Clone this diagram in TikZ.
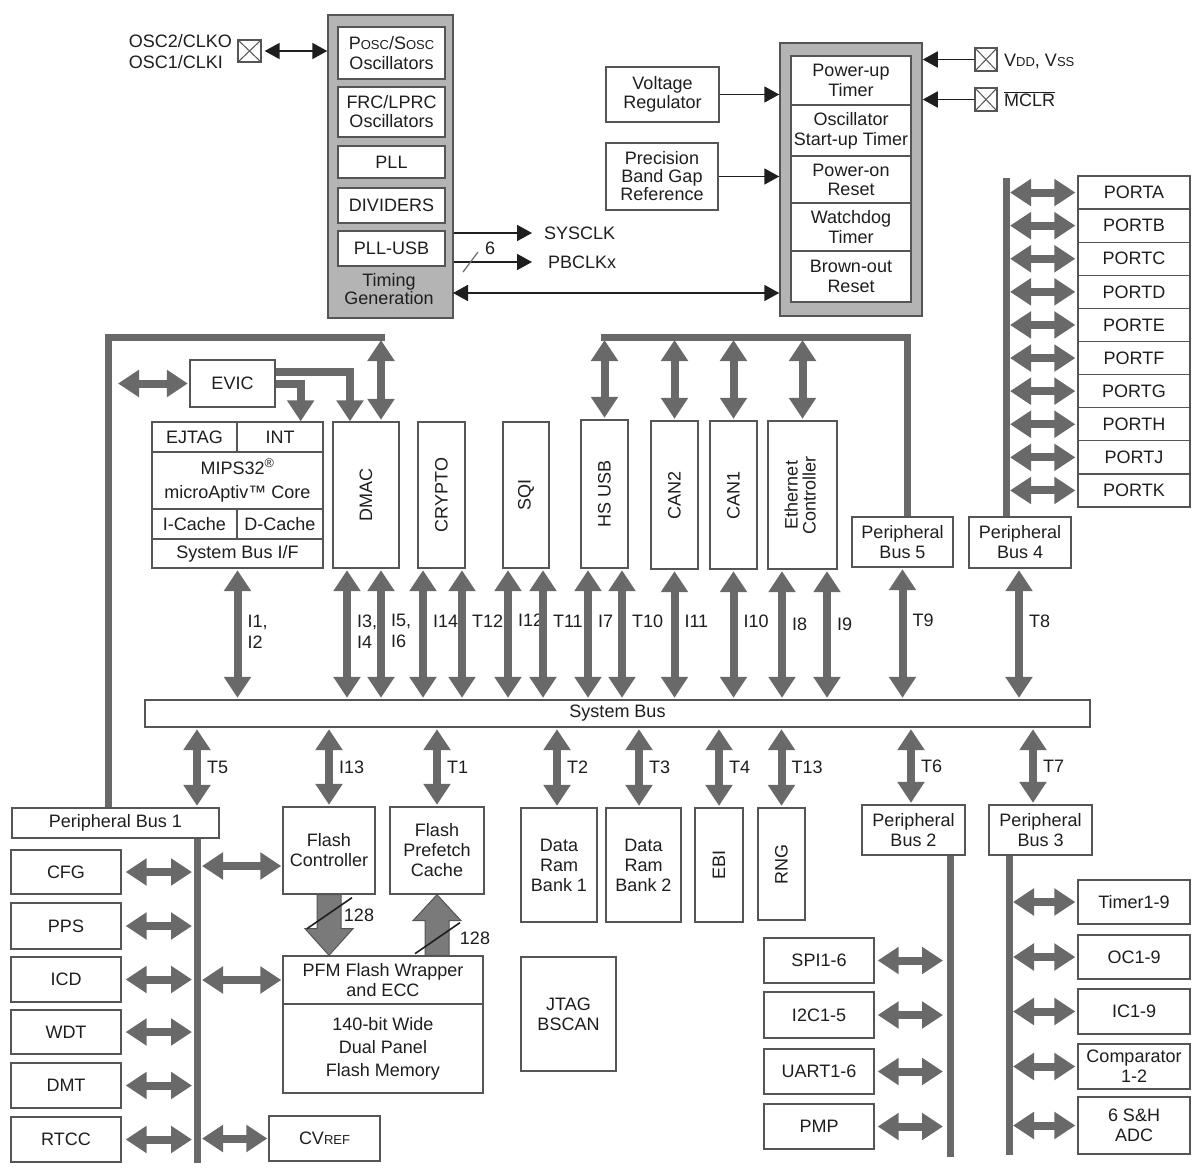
\documentclass[tikz,border=0pt]{standalone}
\usepackage{fontspec}
\setmainfont{Liberation Sans}
\usepackage{graphicx}
\usetikzlibrary{calc}
\usetikzlibrary{arrows.meta}

\definecolor{ink}{RGB}{30,30,30}
\definecolor{bord}{RGB}{85,85,85}
\definecolor{garr}{RGB}{105,105,105}
\definecolor{panel}{RGB}{180,180,180}
\definecolor{blkfill}{RGB}{122,122,122}

\newcommand{\lowcap}[1]{{\fontsize{13}{13}\selectfont #1}}

\begin{document}
\begin{tikzpicture}[x=1pt,y=-1pt,
  font=\fontsize{18}{20}\selectfont,
  wh/.style 2 args={minimum width=#1, minimum height=#2},
  box/.style={draw=bord, line width=1.3pt, fill=white, inner sep=0pt, align=center, text=ink},
  gbox/.style={draw=bord, line width=1.5pt, fill=panel, inner sep=0pt},
  padbox/.style={draw=bord, line width=1.3pt, inner sep=0pt,
    path picture={\draw[bord,line width=1pt] (path picture bounding box.north west) -- (path picture bounding box.south east)
      (path picture bounding box.north east) -- (path picture bounding box.south west);}},
  gbus/.style={draw=garr, line width=7pt},
  garrow/.style={draw=garr, line width=8pt, shorten <=1.5pt, shorten >=1.5pt,
    {Triangle[length=21pt,width=26pt]}-{Triangle[length=21pt,width=26pt]}},
  gto/.style={draw=garr, line width=8pt, -{Triangle[length=21pt,width=26pt]}},
  barrow/.style={draw=ink, line width=1.8pt, -{Triangle[length=15pt,width=16pt]}},
  bboth/.style={draw=ink, line width=1.8pt, {Triangle[length=15pt,width=16pt]}-{Triangle[length=15pt,width=16pt]}},
  lbl/.style={anchor=west, inner sep=1pt, xshift=5pt, text=ink, align=left, font=\fontsize{18}{21}\selectfont},
  blk/.style={fill=blkfill, draw=bord, line width=1pt}]
\fill[white] (0,0) rectangle (1196,1167);
\useasboundingbox (0,0) rectangle (1196,1167);

% clock block
\node[gbox, wh={125}{303}] (tg) at (390.5,166.5) {};
\node[box, wh={107}{52}] (posc) at (391.5,53) {P\lowcap{OSC}/S\lowcap{OSC}\\Oscillators};
\node[box, wh={107}{50}, font=\fontsize{18}{19}\selectfont] (frc) at (391.5,112) {FRC/LPRC\\Oscillators};
\node[box, wh={107}{32}] (pll) at (391.5,162) {PLL};
\node[box, wh={107}{35}] (div) at (391.5,205.5) {DIVIDERS};
\node[box, wh={107}{35}] (pllusb) at (391.5,248.5) {PLL-USB};
\node[text=ink, align=center, font=\fontsize{18}{18}\selectfont] (tgtext) at (389,289) {Timing\\Generation};

\node[padbox, wh={23}{22}] (oscpin) at (249.5,51) {};
\node[anchor=east, align=left, text=ink, inner sep=2pt, font=\fontsize{18}{21}\selectfont] (osclbl) at (234,52) {OSC2/CLKO\\OSC1/CLKI};
\draw[bboth, shorten <=3pt] (oscpin.east) -- (oscpin.east -| tg.west);

\node[anchor=west, text=ink, inner sep=2pt] (sysclk) at (542,233) {SYSCLK};
\node[anchor=west, text=ink, inner sep=2pt] (pbclk) at (546,262) {PBCLKx};
\draw[barrow, shorten >=10pt] (tg.east |- sysclk.west) -- (sysclk.west);
\draw[barrow, shorten >=14pt] (tg.east |- pbclk.west) -- (pbclk.west);
\draw[garr, line width=1.2pt] (463,272) -- (478,252);
\node[text=ink, inner sep=1pt] (six) at (490,248) {6};

% reset block
\node[gbox, wh={142}{273}] (rst) at (851,179.5) {};
\node[box, wh={120}{49}] (pwrt) at (851,80.5) {Power-up\\Timer};
\node[box, wh={120}{51}] (ost) at (851,130.5) {Oscillator\\Start-up Timer};
\node[box, wh={120}{47}, font=\fontsize{18}{19}\selectfont] (por) at (851,179.5) {Power-on\\Reset};
\node[box, wh={120}{48}] (wdtr) at (851,227) {Watchdog\\Timer};
\node[box, wh={120}{51}] (bor) at (851,276.5) {Brown-out\\Reset};

\node[box, wh={113}{55}, font=\fontsize{18}{19}\selectfont] (vreg) at (662.5,94.5) {Voltage\\Regulator};
\node[box, wh={112}{67}, font=\fontsize{18}{18}\selectfont] (bgap) at (662,176.5) {Precision\\Band Gap\\Reference};
\draw[barrow] (vreg.east) -- (vreg.east -| rst.west);
\draw[barrow] (bgap.east) -- (bgap.east -| rst.west);
\coordinate (tglink) at (453,293);
\draw[bboth] (tglink) -- (tglink -| rst.west);

\node[padbox, wh={22}{23}] (vddpin) at (986,59.5) {};
\node[anchor=west, text=ink, inner sep=2pt] (vddlbl) at (1002,61) {V\lowcap{DD}, V\lowcap{SS}};
\node[padbox, wh={22}{23}] (mclrpin) at (986,99.5) {};
\node[anchor=west, text=ink, inner sep=2pt] (mclrlbl) at (1002,99) {$\overline{\mbox{MCLR}}$};
\draw[barrow] (vddpin.west) -- (vddpin.west -| rst.east);
\draw[barrow] (mclrpin.west) -- (mclrpin.west -| rst.east);

% cpu and bus masters
\node[box, wh={85}{47}] (evic) at (232.5,383.5) {EVIC};
\node[box, wh={171}{146}] (cpu) at (237.5,495) {};
\node[box, wh={85}{30}] (ejtag) at (194.5,437) {EJTAG};
\node[box, wh={86}{30}] (mipsint) at (280,437) {INT};
\node[box, wh={171}{57}, font=\fontsize{18}{24}\selectfont] (core) at (237.5,480.5) {MIPS32\textsuperscript{\textregistered}\\microAptiv\texttrademark{} Core};
\node[box, wh={85}{30}] (icache) at (194.5,524) {I-Cache};
\node[box, wh={86}{30}] (dcache) at (280,524) {D-Cache};
\node[box, wh={171}{29}] (sbif) at (237.5,553.5) {System Bus I/F};

\node[box, wh={66}{146}] (dmac) at (366,495) {\rotatebox{90}{DMAC}};
\node[box, wh={47}{146}] (crypto) at (441.5,495) {\rotatebox{90}{CRYPTO}};
\node[box, wh={46}{146}] (sqi) at (526,495) {\rotatebox{90}{SQI}};
\node[box, wh={47}{148}] (hsusb) at (604.5,494) {\rotatebox{90}{HS USB}};
\node[box, wh={47}{148}] (can2) at (674.5,495) {\rotatebox{90}{CAN2}};
\node[box, wh={47}{148}] (can1) at (733.5,495) {\rotatebox{90}{CAN1}};
\node[box, wh={69}{148}] (eth) at (802.5,495) {\rotatebox{90}{\def\arraystretch{0.8}\begin{tabular}{@{}c@{}}Ethernet\\Controller\end{tabular}}};
\node[box, wh={101}{50}] (pb5) at (902.5,542) {Peripheral\\Bus 5};
\node[box, wh={102}{51}] (pb4) at (1020,542.5) {Peripheral\\Bus 4};

\node[box, wh={945}{27}] (sysbus) at (617.5,713.5) {System Bus};

% ports
\coordinate (b4top) at (1006,178);
\draw[gbus] (b4top) -- (b4top |- pb4.north);
\foreach \p [count=\i] in {A,B,C,D,E,F,G,H,J,K}{
  \node[box, wh={112}{33.1}] (port\p) at (1134,{176+33.1*(\i-0.5)}) {PORT\p};
  \draw[garrow, shorten <=4pt, shorten >=2pt] (port\p.west -| b4top) -- (port\p.west);
}

% lower modules
\node[box, wh={207}{30}] (pb1) at (115.5,823) {Peripheral Bus 1};
\node[box, wh={110}{44}] (cfg) at (66,872) {CFG};
\node[box, wh={110}{46}] (pps) at (66,926) {PPS};
\node[box, wh={110}{45}] (icd) at (66,979.5) {ICD};
\node[box, wh={110}{44}] (wdt) at (66,1032) {WDT};
\node[box, wh={110}{45}] (dmt) at (66,1085.5) {DMT};
\node[box, wh={110}{45}] (rtcc) at (66,1139.5) {RTCC};
\node[box, wh={92}{87}] (fc) at (329,850.5) {Flash\\Controller};
\node[box, wh={94}{87}] (fpc) at (437,850.5) {Flash\\Prefetch\\Cache};
\node[box, wh={200}{48}] (pfmw) at (383,980) {PFM Flash Wrapper\\and ECC};
\node[box, wh={200}{89}, font=\fontsize{18}{23}\selectfont] (pfmm) at (383,1048.5) {140-bit Wide\\Dual Panel\\Flash Memory};
\node[box, wh={111}{45}] (cvref) at (324.5,1138.5) {CV\lowcap{REF}};
\node[box, wh={76}{114}] (dr1) at (559,865) {Data\\Ram\\Bank 1};
\node[box, wh={75}{114}] (dr2) at (643.5,865) {Data\\Ram\\Bank 2};
\node[box, wh={48}{114}] (ebi) at (719,865) {\rotatebox{90}{EBI}};
\node[box, wh={47}{112}] (rng) at (781.5,864) {\rotatebox{90}{RNG}};
\node[box, wh={95}{114}] (jtag) at (568.5,1014) {JTAG\\BSCAN};
\node[box, wh={110}{45}] (spi) at (819,960.5) {SPI1-6};
\node[box, wh={110}{46}] (i2c) at (819,1015) {I2C1-5};
\node[box, wh={110}{45}] (uart) at (819,1071.5) {UART1-6};
\node[box, wh={110}{45}] (pmp) at (819,1126.5) {PMP};
\node[box, wh={103}{50}] (pb2) at (913.5,830) {Peripheral\\Bus 2};
\node[box, wh={103}{50}] (pb3) at (1040.5,830) {Peripheral\\Bus 3};
\node[box, wh={112}{44}] (tmr) at (1134,902) {Timer1-9};
\node[box, wh={112}{44}] (oc) at (1134,957) {OC1-9};
\node[box, wh={112}{45}] (ic) at (1134,1011.5) {IC1-9};
\node[box, wh={112}{45}] (cmp) at (1134,1066.5) {Comparator\\1-2};
\node[box, wh={112}{57}] (adc) at (1134,1125.5) {6 S\&H\\ADC};

% peripheral bus 1
\coordinate (b1corner) at (108,337);
\coordinate (b1end) at (381,337);
\coordinate (b1bot) at (197,1163);
\draw[gbus] (b1corner |- pb1.north) -- (b1corner) -- ($(b1end)+(4,0)$);
\draw[garrow, shorten <=3pt] (b1end) -- (b1end |- dmac.north);
\draw[garrow, shorten >=10pt] (evic.west) -- (evic.west -| b1corner);
\draw[gto] ($(evic.east)+(0,-12)$) -| ($(dmac.north)+(-16,0)$);
\draw[gto] (evic.east) -| ($(cpu.north east)+(-23,0)$);
\draw[gbus] (b1bot |- pb1.south) -- (b1bot);
\foreach \n in {cfg,pps,icd,wdt,dmt,rtcc}
  \draw[garrow, shorten <=4pt, shorten >=5pt] (\n.east) -- (\n.east -| b1bot);
\draw[garrow, shorten <=5pt, shorten >=1pt] ($(cfg.east -| b1bot)+(0,-6)$) -- ($(cfg.east -| fc.west)+(0,-6)$);
\draw[garrow, shorten <=5pt, shorten >=1pt] (pfmw.west -| b1bot) -- (pfmw.west);
\draw[garrow, shorten <=5pt, shorten >=1pt] (cvref.west -| b1bot) -- (cvref.west);
\draw[garrow] (sysbus.south -| b1bot) -- (pb1.north -| b1bot) node[lbl, pos=.5] {T5};

% peripheral bus 5
\coordinate (b5corner) at (907,337);
\draw[gbus] (b5corner |- pb5.north) -- (b5corner) -- ($(hsusb.north |- b5corner)+(-4,0)$);
\foreach \m in {hsusb,can2,can1,eth}
  \draw[garrow, shorten <=3pt] (\m.north |- b5corner) -- (\m.north);

% system bus links
\foreach \m/\dx/\ps/\t in {cpu/0/.48/{I1,\\I2}, dmac/-19/.48/{I3,\\I4}, dmac/15/.48/{I5,\\I6},
    crypto/-18.5/.4/I14, crypto/20.5/.4/T12, sqi/-18/.4/{I12,}, sqi/17/.4/T11,
    hsusb/-16.5/.4/I7, hsusb/17.5/.4/T10, can2/0/.4/I11, can1/0/.4/I10,
    eth/-20.5/.42/I8, eth/24.5/.42/I9, pb5/0/.4/T9, pb4/-1/.4/T8}
  \draw[garrow] ($(\m.south)+(\dx,0)$) -- ($(\m.south |- sysbus.north)+(\dx,0)$) node[lbl, pos=\ps] {\t};
\foreach \m/\dx/\t in {fc/0/I13, fpc/0/T1, dr1/-2/T2, dr2/-4.5/T3, ebi/0/T4, rng/0/T13, pb2/-2.5/T6, pb3/-7.5/T7}
  \draw[garrow] ($(\m.north |- sysbus.south)+(\dx,0)$) -- ($(\m.north)+(\dx,0)$) node[lbl, pos=.5] {\t};

% flash data paths
\filldraw[blk] ($(fc.south)+(-12,0)$) -- ($(fc.south)+(-12,34)$) -- ($(fc.south)+(-24,34)$) -- (fc.south |- pfmw.north)
  -- ($(fc.south)+(24,34)$) -- ($(fc.south)+(12,34)$) -- ($(fc.south)+(12,0)$) -- cycle;
\draw[ink, line width=1.6pt] ($(fc.south)+(-22,34)$) -- ($(fc.south)+(23,3)$);
\node[text=ink, inner sep=1pt] (w128a) at ($(fc.south)+(30,21)$) {128};
\filldraw[blk] ($(fpc.south |- pfmw.north)+(-12,0)$) -- ($(fpc.south)+(-12,26)$) -- ($(fpc.south)+(-24,26)$) -- (fpc.south)
  -- ($(fpc.south)+(24,26)$) -- ($(fpc.south)+(12,26)$) -- ($(fpc.south |- pfmw.north)+(12,0)$) -- cycle;
\draw[ink, line width=1.6pt] ($(fpc.south)+(-22,59)$) -- ($(fpc.south)+(23,28)$);
\node[text=ink, inner sep=1pt] (w128b) at ($(fpc.south)+(38,44)$) {128};

% peripheral buses 2 and 3
\coordinate (b2bot) at (950,1157);
\coordinate (b3bot) at (1009,1155);
\draw[gbus] (b2bot |- pb2.south) -- (b2bot);
\draw[gbus] (b3bot |- pb3.south) -- (b3bot);
\foreach \n in {spi,i2c,uart,pmp}
  \draw[garrow, shorten <=3pt, shorten >=7pt] (\n.east) -- (\n.east -| b2bot);
\foreach \n in {tmr,oc,ic,cmp,adc}
  \draw[garrow, shorten <=4pt, shorten >=2pt] (\n.west -| b3bot) -- (\n.west);
\end{tikzpicture}
\end{document}
